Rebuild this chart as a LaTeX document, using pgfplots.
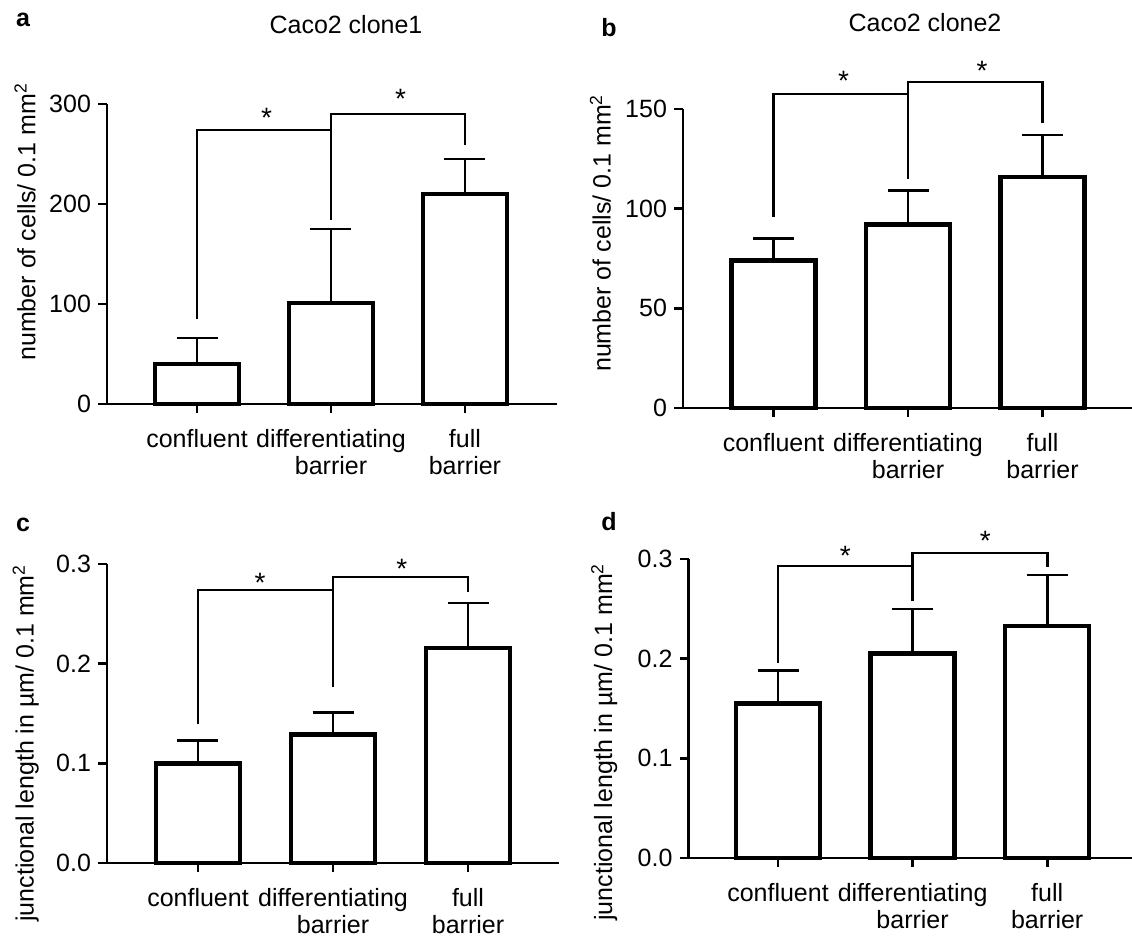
\documentclass[border=0pt]{standalone}
\usepackage{fontspec}
\setmainfont{Liberation Sans}
\usepackage{pgfplots}
\pgfplotsset{compat=1.18}

\newcommand{\lbl}{\fontsize{12.5}{13.5}\selectfont}
\newcommand{\starfont}{\fontsize{14}{16}\selectfont}

\pgfplotsset{
  panel/.style={
    scale only axis,
    anchor=south west,
    clip=false,
    axis x line*=bottom,
    axis y line*=left,
    axis line style={line width=1.3pt,-},
    tick style={line width=1.3pt,black},
    tick align=outside,
    major tick length=4.5pt,
    xtick={0,1,2},
    xticklabels={confluent,differentiating\\barrier,full\\barrier},
    xticklabel style={align=center,font=\lbl,yshift=-4.5pt},
    yticklabel style={font=\lbl},
    /pgf/number format/assume math mode=true,
    scaled y ticks=false,
    ylabel style={font=\lbl,anchor=center},
    ymin=0,
  },
  bars/.style={
    ybar, bar width=0.625, fill=white, draw=black, line width=2.2pt,
    error bars/y dir=plus,
    error bars/y explicit,
    error bars/error mark options={rotate=90,mark size=10.25pt,line width=1.3pt,black},
    error bars/error bar style={line width=1.3pt,black},
  },
  bracket/.style={black,line width=1.35pt,mark=none,line join=miter},
  onedec/.style={yticklabel style={/pgf/number format/.cd,fixed,fixed zerofill,precision=1}},
}

\begin{document}
\begin{tikzpicture}
\useasboundingbox (0,0) rectangle (566pt,470.5pt);

% a
\begin{axis}[panel, at={(53.5pt,268.5pt)}, width=225pt, height=150pt,
  xmin=-0.672, xmax=2.687, ymax=300, ytick={0,100,200,300},
  ylabel={number of cells/ 0.1 mm\textsuperscript{2}},
  ylabel style={at={(axis description cs:-0.182,0.607)}}]
\addplot[bars] coordinates {(0,40) +- (0,26) (1,101) +- (0,74) (2,210) +- (0,35)};
\addplot[bracket] coordinates {(0,85) (0,274) (1,274) (1,184)};
\addplot[bracket] coordinates {(1,274) (1,290) (2,290) (2,259)};
\node[font=\starfont,yshift=-3pt] at (axis cs:0.52,292) {*};
\node[font=\starfont,yshift=-3pt] at (axis cs:1.52,311) {*};
\end{axis}

% b
\begin{axis}[panel, at={(341.5pt,266.5pt)}, width=224.5pt, height=149.5pt,
  xmin=-0.673, xmax=2.665, ymax=150, ytick={0,50,100,150},
  ylabel={number of cells/ 0.1 mm\textsuperscript{2}},
  ylabel style={at={(axis description cs:-0.184,0.585)}}]
\addplot[bars] coordinates {(0,74) +- (0,11) (1,92) +- (0,17) (2,116) +- (0,21)};
\addplot[bracket] coordinates {(0,96) (0,157.5) (1,157.5) (1,115)};
\addplot[bracket] coordinates {(1,157.5) (1,163.5) (2,163.5) (2,143)};
\node[font=\starfont,yshift=-3pt] at (axis cs:0.52,167) {*};
\node[font=\starfont,yshift=-3pt] at (axis cs:1.55,172) {*};
\end{axis}

% c
\begin{axis}[panel, onedec, at={(53.5pt,39pt)}, width=226pt, height=149.5pt,
  xmin=-0.674, xmax=2.674, ymax=0.3, ytick={0,0.1,0.2,0.3},
  ylabel={junctional length in µm/ 0.1 mm\textsuperscript{2}},
  ylabel style={at={(axis description cs:-0.18,0.401)}}]
\addplot[bars] coordinates {(0,0.100) +- (0,0.023) (1,0.129) +- (0,0.022) (2,0.216) +- (0,0.045)};
\addplot[bracket] coordinates {(0,0.139) (0,0.274) (1,0.274) (1,0.177)};
\addplot[bracket] coordinates {(1,0.274) (1,0.287) (2,0.287) (2,0.272)};
\node[font=\starfont,yshift=-3pt] at (axis cs:0.46,0.287) {*};
\node[font=\starfont,yshift=-3pt] at (axis cs:1.51,0.301) {*};
\end{axis}

% d
\begin{axis}[panel, onedec, at={(344.25pt,41.5pt)}, width=221.75pt, height=149.5pt,
  xmin=-0.665, xmax=2.63, ymax=0.3, ytick={0,0.1,0.2,0.3},
  ylabel={junctional length in µm/ 0.1 mm\textsuperscript{2}},
  ylabel style={at={(axis description cs:-0.19,0.388)}}]
\addplot[bars] coordinates {(0,0.155) +- (0,0.033) (1,0.205) +- (0,0.045) (2,0.233) +- (0,0.051)};
\addplot[bracket] coordinates {(0,0.196) (0,0.293) (1,0.293) (1,0.258)};
\addplot[bracket] coordinates {(1,0.293) (1,0.306) (2,0.306) (2,0.292)};
\node[font=\starfont,yshift=-3pt] at (axis cs:0.50,0.309) {*};
\node[font=\starfont,yshift=-3pt] at (axis cs:1.54,0.324) {*};
\end{axis}

% panel letters and titles
\node[font=\lbl\bfseries] at (11.5pt,460.5pt) {a};
\node[font=\lbl\bfseries] at (304.5pt,456.5pt) {b};
\node[font=\lbl\bfseries] at (11.5pt,208pt) {c};
\node[font=\lbl\bfseries] at (304.5pt,209.5pt) {d};
\node[font=\lbl] at (173pt,458pt) {Caco2 clone1};
\node[font=\lbl] at (462.5pt,459pt) {Caco2 clone2};
\end{tikzpicture}
\end{document}
